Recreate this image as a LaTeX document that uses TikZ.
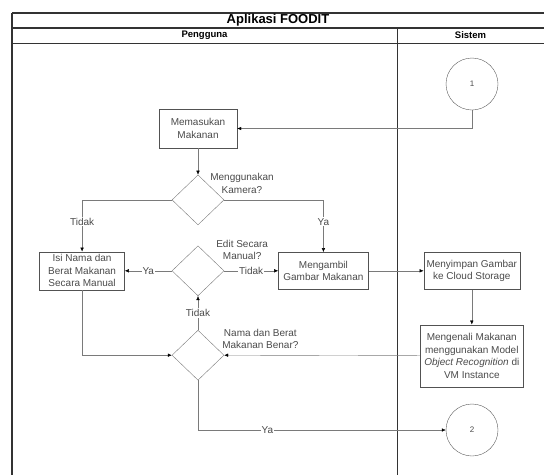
\documentclass[tikz,border=0pt]{standalone}
\usepackage{fontspec}
\setmainfont{Liberation Sans}
\usetikzlibrary{
	arrows.meta,
	positioning,
	shapes.geometric
}
\definecolor{garis}{HTML}{7A7A7A}
\definecolor{teks}{HTML}{4A4A4A}
\definecolor{bingkai}{HTML}{333333}

\begin{document}
\begin{tikzpicture}[x=1pt, y=-1pt,
  proses/.style={rectangle, draw=bingkai!85, text=teks, align=center,
    inner sep=1pt, font=\fontsize{10}{12.5}\selectfont},
  keputusan/.style={diamond, draw=garis, minimum width=52pt,
    minimum height=50pt, inner sep=0pt},
  konektor/.style={circle, draw=bingkai!80, minimum size=52pt, inner sep=0pt,
    text=teks, font=\fontsize{8}{10}\selectfont},
  ket/.style={text=teks, align=center, inner sep=0pt,
    font=\fontsize{10}{12.5}\selectfont},
  tulisan/.style={fill=white, inner sep=1pt, text=teks,
    font=\fontsize{10}{12}\selectfont},
  panah/.style={draw=garis, -{Latex[length=4pt, width=3.5pt, color=black]}},
  jalur/.style={draw=bingkai, line width=1.1pt}
]
\useasboundingbox (0,0) rectangle (544,475);

% kolom dan judul
\draw[jalur] (12,13) -- (544,13);
\draw[jalur] (12,28) -- (544,28);
\draw[jalur, line width=0.8pt] (12,43) -- (544,43);
\draw[jalur] (12,13) -- (12,475);
\draw[jalur, line width=0.9pt] (397,28) -- (397,475);
\node[font=\fontsize{13}{15}\bfseries\selectfont] (judul) at (278,20.5) {Aplikasi FOODIT};
\node[font=\fontsize{9.5}{11}\bfseries\selectfont] (pengguna) at (204.5,35.5) {Pengguna};
\node[font=\fontsize{9.5}{11}\bfseries\selectfont] (sistem) at (470.5,35.5) {Sistem};

% simbol
\node[konektor] (hub1) at (472,84) {1};
\node[proses, minimum width=78pt, minimum height=39pt] (masukan) at (198,128.5) {Memasukan\\Makanan};
\node[keputusan, below=26.5pt of masukan] (kamera) {};
\node[keputusan, below=20.5pt of kamera] (edit) {};
\node[keputusan, below=34pt of edit] (benar) {};
\node[proses, minimum width=85pt, minimum height=38pt, left=47pt of edit] (isi)
  {Isi Nama dan\\Berat Makanan\\Secara Manual};
\node[proses, minimum width=90pt, minimum height=37pt, right=54pt of edit] (ambil)
  {Mengambil\\Gambar Makanan};
\node[proses, minimum width=96pt, minimum height=37pt, right=55pt of ambil] (simpan)
  {Menyimpan Gambar\\ke Cloud Storage};
\node[proses, minimum width=103pt, minimum height=62pt, below=35pt of simpan] (kenali)
  {Mengenali Makanan\\menggunakan Model\\\textit{Object Recognition} di\\VM Instance};
\node[konektor] (hub2) at (472,430) {2};

% keterangan keputusan
\node[ket, anchor=west] (ketkamera) at ([xshift=-1pt, yshift=4pt]kamera.north east) {Menggunakan\\Kamera?};
\node[ket, anchor=west] (ketedit) at ([xshift=5pt, yshift=8.5pt]edit.north east) {Edit Secara\\Manual?};
\node[ket, anchor=west] (ketbenar) at ([xshift=11pt, yshift=3.5pt]benar.north east) {Nama dan Berat\\Makanan Benar?};

% alur
\draw[panah] (hub1) |- (masukan);
\draw[panah] (masukan) -- (kamera);
\draw[panah] (kamera.west) -| node[tulisan, pos=0.71] {Tidak} (isi.north);
\draw[panah] (kamera.east) -| node[tulisan, pos=0.71] {Ya} (ambil.north);
\draw[panah] (edit) -- node[tulisan] {Ya} (isi);
\draw[panah] (edit) -- node[tulisan] {Tidak} (ambil);
\draw[panah] (ambil) -- (simpan);
\draw[panah] (simpan) -- (kenali);
\draw[panah] (kenali.west) -- (benar.east);
\draw[panah] (benar) -- node[tulisan] {Tidak} (edit);
\draw[panah] (isi.south) |- (benar.west);
\draw[panah] (benar.south) |- node[tulisan, pos=0.64] {Ya} (hub2.west);
\end{tikzpicture}
\end{document}
